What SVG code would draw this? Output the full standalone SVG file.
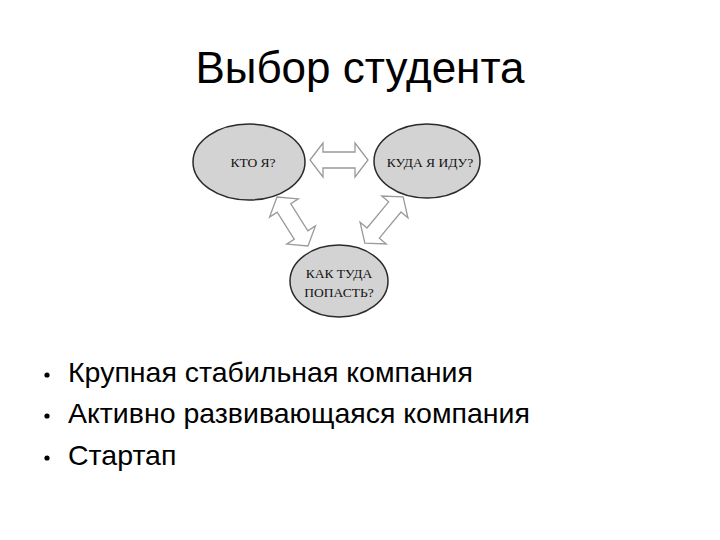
<svg xmlns="http://www.w3.org/2000/svg" width="720" height="540" viewBox="0 0 720 540">
<style>
.title{font-family:"Liberation Sans",Arial,sans-serif;font-size:44px;fill:#000}
.bul{font-family:"Liberation Sans",Arial,sans-serif;font-size:28.5px;fill:#000}
.node ellipse{fill:#d3d3d3;stroke:#2a2a2a;stroke-width:1.5}
.node text{font-family:"Liberation Serif","Times New Roman",serif;font-size:13.5px;fill:#111;text-anchor:middle}
.arr{fill:#fff;stroke:#9a9a9a;stroke-width:1.3;stroke-linejoin:miter}
</style>
<defs>
<path id="dbl58" d="M-29,0 L-16,-17 L-16,-8 L16,-8 L16,-17 L29,0 L16,17 L16,8 L-16,8 L-16,17 Z"/>
<path id="dbl60" d="M-30,0 L-17,-17 L-17,-8 L17,-8 L17,-17 L30,0 L17,17 L17,8 L-17,8 L-17,17 Z"/>
</defs>
<rect width="720" height="540" fill="#fff"/>
<text class="title" x="360" y="83" text-anchor="middle">Выбор студента</text>
<g id="connectors">
<use href="#dbl58" class="arr" transform="translate(339,160)"/>
<use href="#dbl58" class="arr" transform="translate(292.5,221.5) rotate(57.7)"/>
<use href="#dbl60" class="arr" transform="translate(384,220) rotate(-50.4)"/>
</g>
<g id="node-kto" class="node">
<ellipse cx="249" cy="162" rx="56" ry="38"/>
<text x="253" y="167">КТО Я?</text>
</g>
<g id="node-kuda" class="node">
<ellipse cx="427" cy="161" rx="53" ry="37"/>
<text x="430" y="167">КУДА Я ИДУ?</text>
</g>
<g id="node-kak" class="node">
<ellipse cx="339" cy="281" rx="49" ry="36"/>
<text x="339" y="278">КАК ТУДА</text>
<text x="339" y="297">ПОПАСТЬ?</text>
</g>
<g id="bullets">
<circle cx="47" cy="375" r="2.6"/>
<text class="bul" x="68" y="382">Крупная стабильная компания</text>
<circle cx="47" cy="416" r="2.6"/>
<text class="bul" x="68" y="423">Активно развивающаяся компания</text>
<circle cx="47" cy="458" r="2.6"/>
<text class="bul" x="68" y="465">Стартап</text>
</g>
</svg>
